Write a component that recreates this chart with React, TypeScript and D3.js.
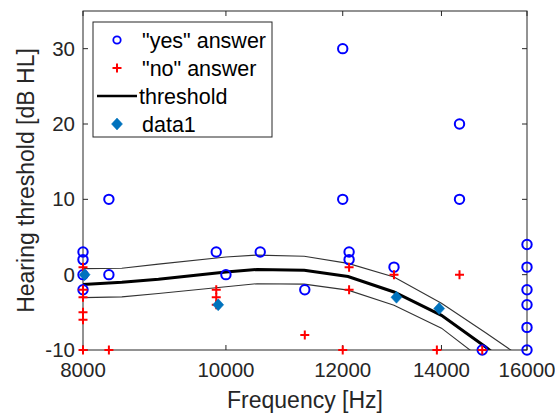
import React from "react";
import * as d3 from "d3";

// "yes" answers (blue circles)
const yesFreq = [8000, 8000, 8000, 8000, 8330, 8330, 9850, 10000, 10550, 11310, 12000, 12000, 12120, 12120, 13000, 14400, 14400, 14920, 16000, 16000, 16000, 16000, 16000, 16000];
const yesLevel = [3, 2, 0, -2, 10, 0, 3, 0, 3, -2, 30, 10, 3, 2, 1, 20, 10, -10, 4, 1, -2, -4, -7, -10];

// "no" answers (red plus)
const noFreq = [8000, 8000, 8000, 8000, 8000, 8000, 8330, 9850, 9850, 9850, 11310, 12000, 12120, 12120, 13000, 13900, 14400, 14920];
const noLevel = [1, -2, -3, -5, -6, -10, -10, -2, -3, -4, -8, -10, 1, -2, 0, -10, 0, -10];

// data1 (diamonds)
const d1Freq = [8020, 9880, 13050, 13950];
const d1Level = [0, -4, -3, -4.5];

// threshold curve and its bounds
const thrFreq = [8000, 8500, 9000, 10000, 10500, 11300, 12100, 13000, 14000, 15000, 16000];
const thrMid = [-1.3, -1.0, -0.6, 0.35, 0.7, 0.6, -0.25, -2.3, -5.4, -9.6, -14];
const thrUp = [0.8, 0.85, 1.4, 2.35, 2.6, 2.45, 1.5, -0.3, -3.8, -7.7, -11.5];
const thrLo = [-3.05, -2.95, -2.5, -1.6, -1.2, -1.25, -2.05, -4.05, -7.1, -11.6, -16];

const xTicks = [8000, 10000, 12000, 14000, 16000];
const yTicks = [-10, 0, 10, 20, 30];
const legendLabels = ['"yes" answer', '"no" answer', "threshold", "data1"];

const W = 555, H = 416;
const L = 83, R = 527, T = 11, B = 350;
const axisCol = "#262626";
const font = "Arial, 'Liberation Sans', Helvetica, sans-serif";

export default function App() {
  const x = d3.scaleLog().domain([8000, 16000]).range([L, R]);
  const y = d3.scaleLinear().domain([-10, 35]).range([B, T]);

  const line = d3.line<number>()
    .x((d, i) => x(thrFreq[i]))
    .y(d => y(d));

  const plus = (cx: number, cy: number, k: string) => (
    <path key={k} d={`M${cx - 4.5},${cy}H${cx + 4.5}M${cx},${cy - 4.5}V${cy + 4.5}`} stroke="#ff0000" strokeWidth={2} fill="none" />
  );
  const diamond = (cx: number, cy: number, k: string) => (
    <path key={k} d={`M${cx},${cy - 6}L${cx + 5.5},${cy}L${cx},${cy + 6}L${cx - 5.5},${cy}Z`} fill="#0072BD" stroke="#0072BD" strokeWidth={0.5} />
  );

  const legX = 93, legY = 22, legW = 179, legH = 115;
  const rowY = (i: number) => legY + 18 + i * 28;

  return (
    <svg width={W} height={H} style={{ position: "absolute", left: 0, top: 0, background: "#fff" }} fontFamily={font}>
      <defs>
        <clipPath id="plotClip">
          <rect x={L} y={T} width={R - L} height={B - T} />
        </clipPath>
      </defs>

      {/* threshold lines */}
      <g clipPath="url(#plotClip)" fill="none">
        <path d={line(thrUp) ?? ""} stroke="#333" strokeWidth={1.1} />
        <path d={line(thrLo) ?? ""} stroke="#333" strokeWidth={1.1} />
        <path d={line(thrMid) ?? ""} stroke="#000" strokeWidth={3} />
      </g>

      {/* axes box */}
      <g stroke={axisCol} strokeWidth={1} fill="none">
        <rect x={L} y={T} width={R - L} height={B - T} />
        {xTicks.map(t => (
          <g key={"xt" + t}>
            <line x1={x(t)} x2={x(t)} y1={B} y2={B - 5} />
            <line x1={x(t)} x2={x(t)} y1={T} y2={T + 5} />
          </g>
        ))}
        {yTicks.map(t => (
          <g key={"yt" + t}>
            <line x1={L} x2={L + 5} y1={y(t)} y2={y(t)} />
            <line x1={R} x2={R - 5} y1={y(t)} y2={y(t)} />
          </g>
        ))}
      </g>

      {/* markers */}
      {yesFreq.map((f, i) => (
        <circle key={"y" + i} cx={x(f)} cy={y(yesLevel[i])} r={4.7} fill="none" stroke="#0000ff" strokeWidth={2} />
      ))}
      {noFreq.map((f, i) => plus(x(f), y(noLevel[i]), "n" + i))}
      {d1Freq.map((f, i) => diamond(x(f), y(d1Level[i]), "d" + i))}

      {/* tick labels */}
      <g fill={axisCol} fontSize={20.5}>
        {xTicks.map(t => (
          <text key={"xl" + t} x={x(t)} y={B + 27} textAnchor="middle">{t}</text>
        ))}
        {yTicks.map(t => (
          <text key={"yl" + t} x={L - 8} y={y(t) + 7} textAnchor="end">{t}</text>
        ))}
      </g>

      {/* axis labels */}
      <text x={(L + R) / 2} y={408} textAnchor="middle" fontSize={23} fill={axisCol}>Frequency [Hz]</text>
      <text transform={`translate(34,${(T + B) / 2}) rotate(-90)`} textAnchor="middle" fontSize={23} fill={axisCol}>Hearing threshold [dB HL]</text>

      {/* legend */}
      <rect x={legX} y={legY} width={legW} height={legH} fill="#fff" stroke={axisCol} strokeWidth={1} />
      <circle cx={117} cy={rowY(0)} r={3.7} fill="none" stroke="#0000ff" strokeWidth={1.8} />
      {plus(117, rowY(1), "lp")}
      <line x1={97} x2={137} y1={rowY(2)} y2={rowY(2)} stroke="#000" strokeWidth={2.5} />
      {diamond(117, rowY(3), "ld")}
      <g fontSize={21.5} fill="#000">
        {legendLabels.map((s, i) => (
          <text key={s} x={i === 2 ? 139 : 142} y={rowY(i) + 8}>{s}</text>
        ))}
      </g>
    </svg>
  );
}
